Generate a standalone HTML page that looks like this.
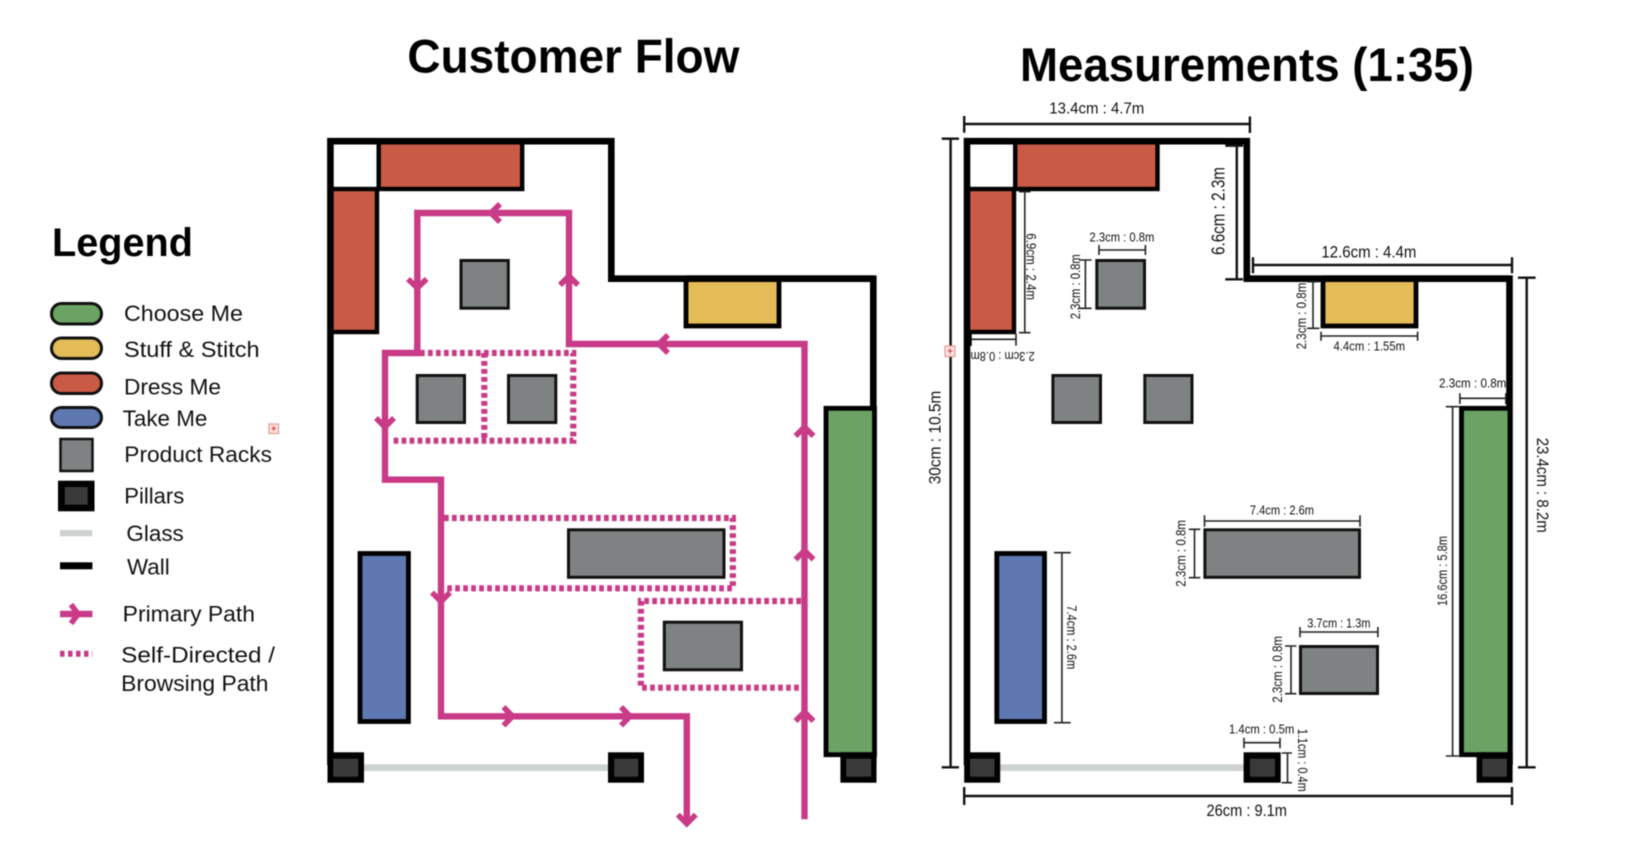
<!DOCTYPE html>
<html><head><meta charset="utf-8"><title>Customer Flow and Measurements</title>
<style>
html,body{margin:0;padding:0;background:#fff;width:1638px;height:852px;overflow:hidden}
svg{display:block;filter:blur(.4px)}
text{font-family:"Liberation Sans",sans-serif;fill:#111}
.h{font-weight:bold;font-size:47px;fill:#000}
.l{font-size:22px}
.w{fill:none;stroke:#000;stroke-width:6.6;stroke-linejoin:miter}
.p{fill:none;stroke:#c93a87;stroke-width:6.4;stroke-linejoin:miter}
.a{fill:none;stroke:#c93a87;stroke-width:5.6;stroke-linejoin:miter}
.d{fill:none;stroke:#c93a87;stroke-width:6.2;stroke-dasharray:4.7 3.3}
.r{fill:#7f8282;stroke:#111;stroke-width:3}
.m{fill:none;stroke:#222;stroke-width:1.6}
.b{fill:none;stroke:#111;stroke-width:2.4}
</style></head><body>
<svg width="1638" height="852" viewBox="0 0 1638 852" xmlns="http://www.w3.org/2000/svg">
<rect width="1638" height="852" fill="#fff"/>

<!-- Titles -->
<text class="h" x="407.4" y="72.7" textLength="332" lengthAdjust="spacingAndGlyphs">Customer Flow</text>
<text class="h" x="1020" y="81" textLength="454" lengthAdjust="spacingAndGlyphs">Measurements (1:35)</text>
<text class="h" x="52" y="256" style="font-size:40px" textLength="141" lengthAdjust="spacingAndGlyphs">Legend</text>

<!-- Legend -->
<rect x="51.5" y="303.5" width="50" height="20.5" rx="10" fill="#6aa363" stroke="#111" stroke-width="3"/>
<rect x="51.5" y="338" width="50" height="20.5" rx="10" fill="#e3bc58" stroke="#111" stroke-width="3"/>
<rect x="51.5" y="373" width="50" height="20.5" rx="10" fill="#c95a45" stroke="#111" stroke-width="3"/>
<rect x="51.5" y="407.5" width="50" height="20" rx="10" fill="#5f78b2" stroke="#111" stroke-width="3"/>
<rect x="60.5" y="439" width="32" height="32" fill="#7f8282" stroke="#111" stroke-width="2.5"/>
<rect x="58" y="480.7" width="36.5" height="30.6" fill="#000"/><rect x="64.8" y="487" width="22.9" height="17.7" fill="#3a3a3a"/>
<rect x="60" y="530" width="32.4" height="6.3" fill="#cdd2d0"/>
<rect x="60" y="562.3" width="32.4" height="7" fill="#000"/>
<path class="p" d="M60 614H92.4" stroke-width="6.5"/>
<polyline class="a" points="71,604.5 78,614 71,623.5"/>
<path d="M60 653.8H92.4" fill="none" stroke="#c93a87" stroke-width="6" stroke-dasharray="4.5 3.5"/>
<text class="l" x="124" y="321" textLength="119" lengthAdjust="spacingAndGlyphs">Choose Me</text>
<text class="l" x="124" y="357" textLength="135.6" lengthAdjust="spacingAndGlyphs">Stuff &amp; Stitch</text>
<text class="l" x="124" y="394.7" textLength="97" lengthAdjust="spacingAndGlyphs">Dress Me</text>
<text class="l" x="122.7" y="426" textLength="84.7" lengthAdjust="spacingAndGlyphs">Take Me</text>
<text class="l" x="124.3" y="462" textLength="147.7" lengthAdjust="spacingAndGlyphs">Product Racks</text>
<text class="l" x="124.3" y="503.3" textLength="60" lengthAdjust="spacingAndGlyphs">Pillars</text>
<text class="l" x="126.4" y="541" textLength="57.4" lengthAdjust="spacingAndGlyphs">Glass</text>
<text class="l" x="127" y="574.3" textLength="42.7" lengthAdjust="spacingAndGlyphs">Wall</text>
<text class="l" x="122.7" y="621.7" textLength="132.3" lengthAdjust="spacingAndGlyphs">Primary Path</text>
<text class="l" x="121.2" y="662.7" textLength="153.8" lengthAdjust="spacingAndGlyphs">Self-Directed /</text>
<text class="l" x="121.2" y="691" textLength="147.3" lengthAdjust="spacingAndGlyphs">Browsing Path</text>
<rect x="269" y="424" width="9.5" height="9.5" fill="#fbe3e1" stroke="#e79a94" stroke-width="1.2"/>
<path d="M273.7 426v5M271.5 428.5h4.5" stroke="#d9534f" stroke-width="1.2"/>

<!-- LEFT PLAN -->
<rect x="330" y="141" width="50" height="48" fill="#fff"/>
<rect x="378.7" y="141" width="143.5" height="48" fill="#c95a45" stroke="#000" stroke-width="4.4"/>
<rect x="330.5" y="189" width="46.5" height="143" fill="#c95a45" stroke="#000" stroke-width="4.4"/>
<path class="w" d="M330.4 765V141.2H611.3V278.7H873.3V765"/>
<rect x="686" y="278.7" width="93" height="47.3" fill="#e3bc58" stroke="#000" stroke-width="4.8"/>
<path class="w" d="M686 278.7H873"/>
<rect class="r" x="461" y="260.5" width="47.3" height="47.7"/>
<rect class="r" x="417.2" y="375.5" width="47.3" height="47"/>
<rect class="r" x="508.5" y="375.5" width="47.3" height="47"/>
<rect class="r" x="568.5" y="529.8" width="155.5" height="47.5"/>
<rect class="r" x="664.3" y="622.2" width="77.2" height="47.6"/>
<rect x="360" y="553.5" width="48.4" height="168" fill="#5f78b2" stroke="#000" stroke-width="4.8"/>
<rect x="826" y="408.3" width="48.5" height="346.4" fill="#6aa363" stroke="#000" stroke-width="4.8"/>
<rect x="360" y="764.3" width="250" height="6.7" fill="#cdd2d0"/>
<rect x="327.5" y="752.3" width="36.5" height="30.4" fill="#000"/><rect x="333.2" y="758.7" width="25.1" height="18" fill="#3a3a3a"/>
<rect x="608" y="752.3" width="36" height="30.4" fill="#000"/><rect x="614.2" y="758.7" width="24.1" height="18" fill="#3a3a3a"/>
<rect x="840.4" y="752.3" width="36.1" height="30.4" fill="#000"/><rect x="846.2" y="758.7" width="25" height="18" fill="#3a3a3a"/>

<!-- dotted paths -->
<path class="d" d="M420 353H573.3V440.7H391.7"/>
<path class="d" d="M484.3 353V440.7"/>
<path class="d" d="M444 518H732.8V588.3H444"/>
<path class="d" d="M801 601H640.9V687.7H801"/>
<!-- primary paths -->
<path class="p" d="M804.5 819.3V344H569V213H417.3V353H385V479.7H441V716.3H686.8V822"/>
<polyline class="a" points="500,204 491,213 500,222"/>
<polyline class="a" points="408,279 417.3,288 426.6,279"/>
<polyline class="a" points="560,285 569,276 578,285"/>
<polyline class="a" points="668,335 659,344 668,353"/>
<polyline class="a" points="376,418 385,427 394,418"/>
<polyline class="a" points="432,592.5 441,601.5 450,592.5"/>
<polyline class="a" points="503.5,707 512.5,716.3 503.5,725.6"/>
<polyline class="a" points="621,707 630,716.3 621,725.6"/>
<polyline class="a" points="677.8,814.7 686.8,823.7 695.8,814.7"/>
<polyline class="a" points="795.5,436 804.5,427 813.5,436"/>
<polyline class="a" points="795.5,559.5 804.5,550.5 813.5,559.5"/>
<polyline class="a" points="795.5,721 804.5,712 813.5,721"/>

<!-- RIGHT PLAN -->
<rect x="1015.2" y="141" width="142.3" height="48" fill="#c95a45" stroke="#000" stroke-width="4.4"/>
<rect x="967.5" y="189" width="46.5" height="143" fill="#c95a45" stroke="#000" stroke-width="4.4"/>
<path class="w" d="M967 765V141.2H1246.8V278.7H1509.5V765"/>
<rect x="1323" y="278.7" width="93" height="47.3" fill="#e3bc58" stroke="#000" stroke-width="4.8"/>
<path class="w" d="M1323 278.7H1509"/>
<rect class="r" x="1096.8" y="260.5" width="47.7" height="47.7"/>
<rect class="r" x="1052.9" y="375.5" width="47.6" height="47"/>
<rect class="r" x="1144.8" y="375.5" width="47.2" height="47"/>
<rect class="r" x="1204.9" y="529.8" width="154.6" height="47.5"/>
<rect class="r" x="1300.5" y="646.5" width="77" height="47"/>
<rect x="996.8" y="553.5" width="47.7" height="168" fill="#5f78b2" stroke="#000" stroke-width="4.8"/>
<rect x="1461.5" y="408.3" width="48.5" height="346.4" fill="#6aa363" stroke="#000" stroke-width="4.8"/>
<rect x="1000" y="764.3" width="244" height="6.7" fill="#cdd2d0"/>
<rect x="964.2" y="752.3" width="36" height="30.4" fill="#000"/><rect x="970" y="758.7" width="24.5" height="18" fill="#3a3a3a"/>
<rect x="1243.6" y="752.3" width="37.1" height="30.4" fill="#000"/><rect x="1249.9" y="758.7" width="25.1" height="18" fill="#3a3a3a"/>
<rect x="1476.6" y="752.3" width="36" height="30.4" fill="#000"/><rect x="1482.3" y="758.7" width="24.6" height="18" fill="#3a3a3a"/>

<!-- Dimensions -->
<path class="b" d="M964.2 124H1249.9M964.2 116V132.7M1249.9 116.5V133"/>
<text x="1049.3" y="113.3" font-size="16" textLength="95" lengthAdjust="spacingAndGlyphs">13.4cm : 4.7m</text>
<path class="b" d="M950.6 138.7V767.3M941.7 138.7H959M941.7 767.3H959"/>
<text transform="translate(940.7 484.3) rotate(-90)" font-size="16.5" textLength="93.6" lengthAdjust="spacingAndGlyphs">30cm : 10.5m</text>
<path class="b" d="M1236.8 145.7V279.3M1225.3 145.7H1243M1225.3 279.3H1243"/>
<text transform="translate(1224.3 255) rotate(-90)" font-size="18" textLength="88" lengthAdjust="spacingAndGlyphs">6.6cm : 2.3m</text>
<path class="b" d="M1253 265H1512M1253 257.3V273.3M1512 257.3V273.3"/>
<text x="1321.4" y="257.3" font-size="17" textLength="95" lengthAdjust="spacingAndGlyphs">12.6cm : 4.4m</text>
<path class="b" d="M1526.7 277.7V767.3M1517.9 277.7H1535.6M1517.9 767.3H1535.6"/>
<text transform="translate(1537 437.7) rotate(90)" font-size="16.5" textLength="95" lengthAdjust="spacingAndGlyphs">23.4cm : 8.2m</text>
<path class="b" d="M964.2 796H1512.5M964.2 787V805M1512 787V805"/>
<text x="1206.5" y="816" font-size="17" textLength="80.5" lengthAdjust="spacingAndGlyphs">26cm : 9.1m</text>

<path class="m" d="M1024.8 191.7V332.7M1019 191.7H1030.5M1019 332.7H1030.5"/>
<text transform="translate(1026.4 233.3) rotate(90)" font-size="13.5" textLength="66.7" lengthAdjust="spacingAndGlyphs">6.9cm : 2.4m</text>
<path class="m" d="M1099 250H1145.4M1099 245V255M1145.4 245V255"/>
<text x="1089.5" y="241.7" font-size="12.5" textLength="64.8" lengthAdjust="spacingAndGlyphs">2.3cm : 0.8m</text>
<path class="m" d="M1085.4 260V308.3M1079 260H1091.6M1079 308.3H1091.6"/>
<text transform="translate(1080 319.3) rotate(-90)" font-size="13.5" textLength="65" lengthAdjust="spacingAndGlyphs">2.3cm : 0.8m</text>
<path class="m" d="M970 339.3H1016M1016 334V345.7"/><path d="M970 334V346" stroke="#000" stroke-width="3.5"/>
<text transform="translate(1034.7 352) rotate(180)" font-size="12.5" textLength="64.2" lengthAdjust="spacingAndGlyphs">2.3cm : 0.8m</text>
<path class="m" d="M1313 281.7V328.3M1307 281.7H1319.4M1307 328.3H1319.4"/>
<text transform="translate(1305.8 349.3) rotate(-90)" font-size="13.5" textLength="66.6" lengthAdjust="spacingAndGlyphs">2.3cm : 0.8m</text>
<path class="m" d="M1321 336H1417.6M1321 331.7V340.7M1417.6 331.7V340.7"/>
<text x="1333.5" y="350.7" font-size="12.5" textLength="71.5" lengthAdjust="spacingAndGlyphs">4.4cm : 1.55m</text>
<path class="m" d="M1459.9 398.3H1505.8M1459.9 393.3V404M1505.8 393.3V404"/>
<text x="1439" y="387.7" font-size="12.5" textLength="67.4" lengthAdjust="spacingAndGlyphs">2.3cm : 0.8m</text>
<path class="m" d="M1452.6 406.7V756M1445.8 406.7H1458.8M1445.8 756H1458.8"/>
<text transform="translate(1447 606) rotate(-90)" font-size="13.5" textLength="70" lengthAdjust="spacingAndGlyphs">16.6cm : 5.8m</text>
<path class="m" d="M1204.5 521H1360M1204.5 515.3V526.7M1360 515.3V526.7"/>
<text x="1249.9" y="514.3" font-size="12.5" textLength="64.1" lengthAdjust="spacingAndGlyphs">7.4cm : 2.6m</text>
<path class="m" d="M1194.5 529.3V577.7M1188.8 529.3H1200.3M1188.8 577.7H1200.3"/>
<text transform="translate(1185.7 586.7) rotate(-90)" font-size="13.5" textLength="66.7" lengthAdjust="spacingAndGlyphs">2.3cm : 0.8m</text>
<path class="m" d="M1061.9 552.7V722.7M1054 552.7H1070.7M1054 722.7H1070.7"/>
<text transform="translate(1067 605.3) rotate(90)" font-size="13.5" textLength="64" lengthAdjust="spacingAndGlyphs">7.4cm : 2.6m</text>
<path class="m" d="M1300 632H1377.9M1300 627V637.3M1377.9 627V637.3"/>
<text x="1307.3" y="627.7" font-size="12.5" textLength="63.2" lengthAdjust="spacingAndGlyphs">3.7cm : 1.3m</text>
<path class="m" d="M1291 646V693.7M1285 646H1296.4M1285 693.7H1296.4"/>
<text transform="translate(1281.8 702.7) rotate(-90)" font-size="13.5" textLength="66.7" lengthAdjust="spacingAndGlyphs">2.3cm : 0.8m</text>
<path class="m" d="M1244 742.7H1280M1244 737.7V748.3M1280 737.7V748.3"/>
<text x="1229" y="733.3" font-size="12.5" textLength="65.3" lengthAdjust="spacingAndGlyphs">1.4cm : 0.5m</text>
<path class="m" d="M1287.5 753V782.7M1281.7 753H1292M1281.7 782.7H1292"/>
<text transform="translate(1298 728.7) rotate(90)" font-size="13.5" textLength="63" lengthAdjust="spacingAndGlyphs">1.1cm : 0.4m</text>
<rect x="945" y="346" width="10" height="10.5" fill="#fbe3e1" stroke="#e79a94" stroke-width="1.2"/>
<path d="M950 348.5v5M947.7 351h4.6" stroke="#d9534f" stroke-width="1.2"/>
</svg>
</body></html>
